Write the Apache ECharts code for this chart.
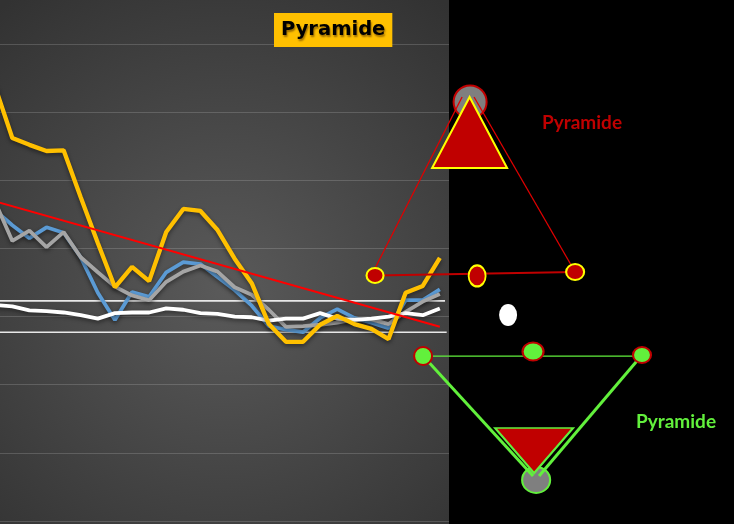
<!DOCTYPE html>
<html><head><meta charset="utf-8">
<script src="https://cdn.jsdelivr.net/npm/echarts@6/dist/echarts.min.js"></script>
<style>html,body{margin:0;padding:0;background:#000}#c{width:734px;height:524px}</style>
</head><body><div id="c"></div>
<script>
// ---- data (x = period index, y = value) ----
const yellowVals = [63.7,56.2,55.2,54.3,54.4,47.5,40.8,34.3,37.3,35.2,42.4,45.8,45.5,42.7,38.5,34.9,28.9,26.3,26.3,28.8,30.1,28.9,28.2,26.7,33.5,34.5,38.6];
const blueVals   = [45.6,43.4,41.5,43.1,42.3,38.7,33.5,29.5,33.6,32.9,36.5,38.0,37.7,35.8,33.9,31.6,28.6,28.1,27.7,29.8,31.1,29.8,29.1,28.3,32.4,32.4,34.0];
const grayVals   = [46.8,41.1,42.6,40.2,42.4,38.7,36.5,34.4,33.1,32.4,35.1,36.6,37.5,36.6,34.3,33.2,31.0,28.5,28.6,28.8,29.1,29.6,29.6,28.9,30.7,32.2,33.3];
const whiteVals  = [31.7,31.5,30.9,30.8,30.6,30.2,29.7,30.5,30.6,30.6,31.2,31.0,30.5,30.4,30.0,29.9,29.4,29.7,29.7,30.5,29.7,29.5,29.7,30.0,30.5,30.2,31.2];
const trendLine  = [[0,46.9],[26,28.5]];
const upperBand  = [[0,32.3],[26.3,32.3]];
const lowerBand  = [[0,27.7],[26.4,27.7]];

// pyramid (upper, red)
const topApex      = [27.77, 61.49];
const topTriangle  = [27.74, 57.01];
const redLeftEdge  = [[27.30,62.22],[22.10,36.54]];
const redRightEdge = [[28.00,62.22],[33.91,36.54]];
const redBase      = [[22.21,36.03],[33.91,36.54]];
const redNodes     = [[22.21,36.03],[28.18,35.96],[33.91,36.54]];
const centerDot    = [29.99, 30.23];
// pyramid (lower, green)
const greenBase      = [[25.02,24.21],[37.82,24.21]];
const greenNodes     = [[25.02,24.21],[31.45,24.88],[37.82,24.36]];
const greenLeftEdge  = [[25.02,24.21],[31.45,6.6]];
const greenRightEdge = [[37.82,24.36],[31.80,6.6]];
const bottomTriangle = [31.51, 10.35];
const bottomApex     = [31.63, 6.02];

const toPairs = a => a.map((v,i)=>[i,v]);
const shadow = {shadowColor:'rgba(0,0,0,0.45)',shadowBlur:4,shadowOffsetY:2};
const RED='#c00000', GREEN='#62f03c';

function lineS(data,color,width,z,extra){
  return {type:'line',data:data,symbol:'none',z:z,silent:true,animation:false,
    lineStyle:Object.assign({color:color,width:width},extra||{})};
}
function dotS(data,symbol,size,fill,border,bw,z,rot){
  return {type:'scatter',data:data,symbol:symbol,symbolSize:size,symbolRotate:rot||0,z:z,silent:true,animation:false,
    itemStyle:{color:fill,borderColor:border,borderWidth:bw,opacity:1}};
}

const chart = echarts.init(document.getElementById('c'),null,{renderer:'canvas'});
chart.setOption({
  backgroundColor:'#000',
  animation:false,
  title:{text:'Pyramide',left:274,top:13,backgroundColor:'#ffc000',padding:[6,7],
    textStyle:{fontFamily:'DejaVu Sans',fontWeight:'bold',fontSize:19.5,lineHeight:22,color:'#000',
      textShadowColor:'rgba(110,70,0,0.7)',textShadowBlur:2,textShadowOffsetX:1,textShadowOffsetY:2}},
  grid:{left:0,right:0,top:44,bottom:3},
  xAxis:{type:'value',min:0.28,max:43.2,show:false,splitLine:{show:false}},
  yAxis:{type:'value',min:0,max:70,interval:10,axisLine:{show:false},axisTick:{show:false},axisLabel:{show:false},
    splitLine:{show:true,lineStyle:{color:'rgba(255,255,255,0.16)',width:1}}},
  graphic:[
    {type:'rect',z:-1,shape:{x:0,y:0,width:449,height:524},
      style:{fill:new echarts.graphic.RadialGradient(0.5,0.55,0.8,[{offset:0,color:'#5a5a5a'},{offset:1,color:'#323232'}])}},
    {type:'rect',z:1,shape:{x:449,y:0,width:285,height:524},style:{fill:'#000'}},
    {type:'text',z:10,x:582,y:123,style:{text:'Pyramide',fill:RED,font:'bold 19px Lato',align:'center',verticalAlign:'middle'}},
    {type:'text',z:10,x:676,y:422,style:{text:'Pyramide',fill:GREEN,font:'bold 19px Lato',align:'center',verticalAlign:'middle'}}
  ],
  series:[
    lineS(upperBand,'#e8e8e8',1.7,2),
    lineS(lowerBand,'#e8e8e8',1.7,2),
    lineS(toPairs(blueVals),'#5b9bd5',3.8,3,shadow),
    lineS(toPairs(grayVals),'#a5a5a5',3.8,3,shadow),
    lineS(toPairs(whiteVals),'#ffffff',3.8,3,shadow),
    lineS(toPairs(yellowVals),'#ffc000',4.3,3,shadow),
    lineS(trendLine,'#ff0000',2,4),
    // upper pyramid
    dotS([topApex],'circle',33,'#7f7f7f',RED,2,5),
    dotS([topTriangle],'triangle',[75,71],RED,'#ffff00',2,6),
    lineS(redLeftEdge,'#e00000',1.3,7),
    lineS(redRightEdge,'#e00000',1.3,7),
    lineS(redBase,RED,2,7),
    {type:'scatter',data:redNodes,symbol:'circle',symbolSize:function(v,p){return [[17,15],[17,21],[18,16]][p.dataIndex];},
      z:8,silent:true,animation:false,itemStyle:{color:RED,borderColor:'#ffff00',borderWidth:2,opacity:1}},
    dotS([centerDot],'circle',[18,22],'#ffffff','#ffffff',0,8),
    // lower pyramid
    dotS([bottomApex],'circle',[28,26],'#7f7f7f',GREEN,2,5),
    dotS([bottomTriangle],'triangle',[78,45],RED,GREEN,2,6,180),
    lineS(greenBase,GREEN,1.3,7),
    lineS(greenLeftEdge,GREEN,3,7),
    lineS(greenRightEdge,GREEN,3,7),
    {type:'scatter',data:greenNodes,symbol:'circle',symbolSize:function(v,p){return [[18,18],[21,18],[18,16]][p.dataIndex];},
      z:8,silent:true,animation:false,itemStyle:{color:GREEN,borderColor:RED,borderWidth:2,opacity:1}}
  ]
});
</script>
</body></html>
